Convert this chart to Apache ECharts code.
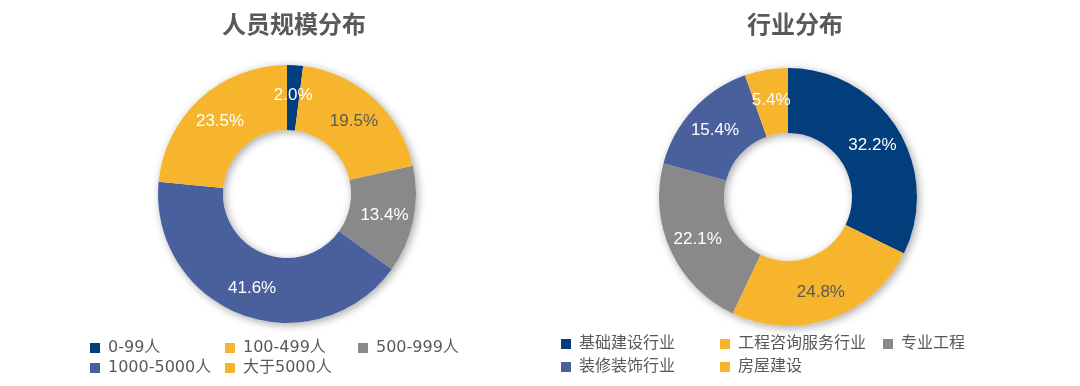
<!DOCTYPE html>
<html><head><meta charset="utf-8">
<script src="https://cdn.jsdelivr.net/npm/echarts@6/dist/echarts.min.js"></script>
<style>html,body{margin:0;padding:0;background:#fff}#c{width:1080px;height:386px}</style>
</head><body><div id="c"></div>
<script>
const sizeCategories = ['0-99人','100-499人','500-999人','1000-5000人','大于5000人'];
const sizeValues = [2.0, 19.5, 13.4, 41.6, 23.5];
const industryCategories = ['基础建设行业','工程咨询服务行业','专业工程','装修装饰行业','房屋建设'];
const industryValues = [32.2, 24.8, 22.1, 15.4, 5.4];
const titles = ['人员规模分布','行业分布'];

const C_DARK='#023d7c', C_YEL='#f6b52d', C_GREY='#898989', C_BLUE='#4a609d';
const sizeColors=[C_DARK,C_YEL,C_GREY,C_BLUE,C_YEL];
const indColors=[C_DARK,C_YEL,C_GREY,C_BLUE,C_YEL];
const darkLabelIdxSize=[1];
const darkLabelIdxInd=[1];
const LFONT='"DejaVu Sans", "Noto Sans CJK SC", sans-serif';
const PFONT='"Liberation Sans", "Noto Sans CJK SC", sans-serif';
const TFONT='"Noto Sans CJK SC", sans-serif';

function mk(names, vals, colors, darkIdx){
  return names.map((n,i)=>({name:n, value:vals[i], itemStyle:{color:colors[i]},
    label:{color: darkIdx.includes(i)?'#5a5a5a':'#ffffff'}}));
}
const chart = echarts.init(document.getElementById('c'));
const legendText={fontSize:16,color:'#595959',fontFamily:LFONT,lineHeight:20,padding:[0,0,0,3]};
const sizeLegendPos=[[90,338],[225,338],[358,338],[90,358],[225,358]];
const indLegendPos=[[561,334],[720,334],[883,334],[561,357],[720,357]];
const legends=[];
sizeCategories.forEach((n,i)=>legends.push({data:[n],left:sizeLegendPos[i][0],top:sizeLegendPos[i][1],itemWidth:10,itemHeight:10,itemGap:0,icon:'rect',textStyle:legendText,selectedMode:false,padding:0}));
industryCategories.forEach((n,i)=>legends.push({data:[n],left:indLegendPos[i][0],top:indLegendPos[i][1],itemWidth:10,itemHeight:10,itemGap:0,icon:'rect',textStyle:legendText,selectedMode:false,padding:0}));
const shadowSeries=(cx,cy)=>({type:'pie',silent:true,z:1,center:[cx,cy],radius:[64,129],
  label:{show:false},labelLine:{show:false},legendHoverLink:false,
  data:[{value:1,name:'_s',itemStyle:{color:'#ffffff',shadowBlur:8,shadowColor:'rgba(0,0,0,0.35)',shadowOffsetX:2,shadowOffsetY:2}}],
  animation:false,tooltip:{show:false}});
const pieBase=(cx,cy,data)=>({type:'pie',z:2,center:[cx,cy],radius:[64,129],startAngle:90,clockwise:true,
  avoidLabelOverlap:false,animation:false,
  label:{show:true,position:'inside',formatter:p=>p.value.toFixed(1)+'%',fontSize:17,fontFamily:PFONT,offset:[0,1]},
  labelLine:{show:false},emphasis:{disabled:true},data:data});
chart.setOption({
  title:[
    {text:titles[0],left:289,top:7,textAlign:'center',textStyle:{fontSize:24,fontWeight:'bold',color:'#595959',fontFamily:TFONT}},
    {text:titles[1],left:790,top:7,textAlign:'center',textStyle:{fontSize:24,fontWeight:'bold',color:'#595959',fontFamily:TFONT}}
  ],
  legend:legends,
  series:[
    shadowSeries(287,194),
    shadowSeries(788,197),
    pieBase(287,194,mk(sizeCategories,sizeValues,sizeColors,darkLabelIdxSize)),
    pieBase(788,197,mk(industryCategories,industryValues,indColors,darkLabelIdxInd))
  ]
});
</script></body></html>
